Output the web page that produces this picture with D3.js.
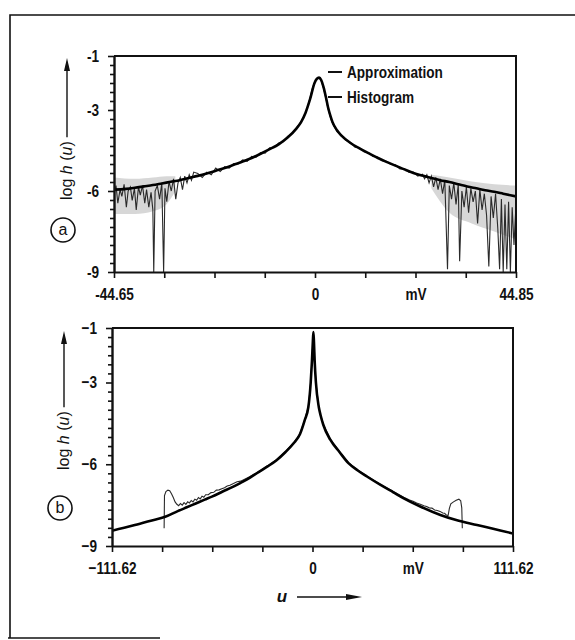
<!DOCTYPE html>
<html>
<head>
<meta charset="utf-8">
<script src="https://cdn.jsdelivr.net/npm/d3@7"></script>
<style>
body { margin: 0; background: #fff; }
svg text { font-family: "Liberation Sans", Arial, sans-serif; fill: #111; }
.num { font-weight: bold; font-size: 17px; }
.leg { font-weight: bold; font-size: 16px; }
</style>
</head>
<body>
<div id="container"></div>
<script>
// ---- data ----
// panel a: approximation curve [u (mV), log h(u)]
let approxA = [
  [-44.65, -5.95], [-42, -5.92], [-40, -5.88], [-38, -5.83], [-36, -5.78], [-34, -5.72],
  [-32, -5.66], [-30, -5.6], [-28, -5.52], [-26, -5.44], [-24, -5.35], [-22, -5.25],
  [-20, -5.15], [-18, -5.03], [-16, -4.91], [-14, -4.78], [-12, -4.62], [-10, -4.45],
  [-8, -4.27], [-6, -4.02], [-4, -3.68], [-3, -3.45], [-2, -3.1], [-1, -2.6], [0, -2.0],
  [0.5, -1.85], [1, -1.8], [1.5, -1.9], [2, -2.15], [2.5, -2.5], [3, -2.9], [3.5, -3.2],
  [4, -3.45], [5, -3.75], [6, -3.95], [8, -4.22], [10, -4.42], [12, -4.6], [14, -4.77],
  [16, -4.92], [18, -5.06], [20, -5.2], [22, -5.33], [24, -5.43], [26, -5.52], [28, -5.6],
  [30, -5.67], [32, -5.75], [34, -5.83], [36, -5.9], [38, -5.97], [40, -6.03], [42, -6.1],
  [44.85, -6.2]
];

// panel a: histogram [u, log h(u)]
let histA = [
  [-44.6, -6.1], [-44.2, -5.8], [-43.8, -6.45], [-43.3, -5.95], [-42.9, -6.2], [-42.4, -5.75],
  [-41.9, -6.6], [-41.5, -6.0], [-41.0, -5.85], [-40.6, -6.35], [-40.1, -5.9], [-39.7, -6.7],
  [-39.2, -5.85], [-38.8, -6.15], [-38.3, -5.8], [-37.8, -6.45], [-37.4, -5.95], [-36.9, -6.6],
  [-36.4, -6.05], [-36.0, -6.7], [-35.8, -9.0], [-35.5, -6.0], [-35.0, -5.8], [-34.5, -6.3],
  [-34.0, -5.7], [-33.6, -9.0], [-33.3, -5.9], [-32.9, -6.4], [-32.4, -5.65], [-31.9, -6.0],
  [-31.4, -5.55], [-30.9, -6.3], [-30.4, -5.7], [-29.9, -5.5], [-29.4, -5.95], [-28.9, -5.45],
  [-28.4, -5.7], [-27.9, -5.4], [-27.4, -5.6], [-26.9, -5.3], [-26, -5.35], [-25, -5.5],
  [-24, -5.3], [-23, -5.4], [-22, -5.15], [-21, -5.28], [-20, -5.1], [-19, -5.15], [-18, -4.98],
  [-17, -5.0], [-16, -4.85], [-15, -4.9], [-14, -4.72], [-13, -4.75], [-12, -4.58], [-11, -4.6],
  [-10, -4.4], [-9, -4.4], [-8, -4.22], [-7, -4.18], [-6, -3.98], [-5, -3.87], [-4, -3.66],
  [-3, -3.43], [-2, -3.1], [-1.5, -2.85], [-1, -2.55], [-0.5, -2.2], [0, -1.98], [0.5, -1.83],
  [1, -1.8], [1.5, -1.92], [2, -2.2], [2.5, -2.55], [3, -2.95], [3.5, -3.25], [4, -3.5],
  [5, -3.8], [6, -3.92], [7, -4.12], [8, -4.2], [9, -4.38], [10, -4.4], [11, -4.55],
  [12, -4.58], [13, -4.72], [14, -4.74], [15, -4.88], [16, -4.9], [17, -5.02], [18, -5.03],
  [19, -5.18], [20, -5.17], [21, -5.3], [22, -5.3], [23, -5.45], [24, -5.38],
  [24.5, -5.55], [25, -5.4], [25.5, -5.7], [26, -5.45], [26.5, -5.85], [27, -5.5],
  [27.5, -5.95], [28, -5.55], [28.5, -6.1], [29, -5.6], [29.6, -8.9], [30, -5.8],
  [30.5, -6.3], [31, -5.7], [31.5, -6.5], [32, -5.75], [32.3, -8.6], [32.8, -6.0],
  [33.3, -6.6], [33.8, -5.85], [34.3, -6.8], [34.8, -5.9], [35.3, -6.4], [35.8, -6.0],
  [36.3, -7.2], [36.8, -5.95], [37.3, -6.7], [37.8, -6.1], [38.3, -6.9], [38.8, -8.8],
  [39.3, -6.2], [39.8, -7.0], [40.3, -6.1], [40.8, -7.4], [41.2, -8.9], [41.6, -6.3],
  [42.0, -9.0], [42.4, -6.5], [42.8, -8.9], [43.2, -6.4], [43.6, -9.0], [44.0, -6.6],
  [44.4, -8.0], [44.85, -6.5]
];

// panel a: grey noise envelope of the histogram tails [u, upper, lower]
let bandALeft = [
  [-44.65, -5.5, -6.85], [-40, -5.55, -6.85], [-36, -5.5, -6.75], [-33, -5.45, -6.5],
  [-31, -5.45, -6.0]
];
let bandARight = [
  [26, -5.4, -5.9], [30, -5.5, -6.8], [35, -5.65, -7.2],
  [40, -5.75, -7.5], [44.85, -5.8, -7.8]
];

// panel b: approximation curve
let approxB = [
  [-111.62, -8.44], [-100, -8.25], [-90, -8.07], [-82, -7.93], [-75, -7.72], [-70, -7.58],
  [-65, -7.44], [-60, -7.3], [-56, -7.19], [-50, -7.0], [-45, -6.85], [-40, -6.68],
  [-35, -6.5], [-31, -6.33], [-25, -6.08], [-20, -5.85], [-15, -5.55], [-10.5, -5.23],
  [-7, -4.9], [-4.4, -4.4], [-2.3, -3.9], [-1.0, -3.0], [-0.3, -2.2], [0.2, -1.5],
  [0.5, -1.15], [0.8, -1.5], [1.2, -2.2], [1.9, -3.0], [3.5, -3.9], [4.5, -4.2], [6, -4.55],
  [9.9, -5.1], [15, -5.55], [20, -5.96], [25, -6.22], [30.3, -6.45], [37.9, -6.76],
  [45, -7.03], [50.8, -7.25], [60, -7.55], [71.2, -7.86], [80, -8.05], [91.6, -8.23],
  [100, -8.36], [111.62, -8.54]
];

// panel b: histogram
let histB = [
  [-82.6, -8.35], [-82.4, -7.15], [-81.6, -7.0], [-80.5, -6.95], [-79.5, -6.97], [-78.5, -7.08],
  [-77.5, -7.22], [-76.5, -7.38], [-75.5, -7.47], [-74.5, -7.52], [-73.5, -7.44], [-72.5, -7.5],
  [-71.5, -7.41], [-70.5, -7.47], [-69.5, -7.38], [-68.5, -7.42], [-67.5, -7.33], [-66.5, -7.38],
  [-65.5, -7.28], [-64.5, -7.32], [-63.5, -7.22], [-62.5, -7.27], [-61.5, -7.17], [-60.5, -7.21],
  [-59.5, -7.12], [-58, -7.12], [-56.5, -7.04], [-55, -7.03], [-53.5, -6.95], [-52, -6.94],
  [-50.5, -6.9], [-49, -6.86], [-47.5, -6.8], [-46, -6.77], [-44, -6.71], [-42, -6.64],
  [-40, -6.62], [-35, -6.46], [-30, -6.27], [-25, -6.05], [-20, -5.83], [-15, -5.53],
  [-10.5, -5.21], [-7, -4.88], [-4.4, -4.38], [-2.3, -3.88], [-1, -2.98], [-0.3, -2.18],
  [0.2, -1.5], [0.5, -1.2], [0.8, -1.5], [1.2, -2.2], [1.9, -3.0], [3.5, -3.9], [4.5, -4.19],
  [6, -4.53], [9.9, -5.08], [15, -5.53], [20, -5.94], [25, -6.2], [30.3, -6.43], [37.9, -6.74],
  [45, -7.0], [50.8, -7.21], [54, -7.31], [56, -7.36], [58, -7.42], [60, -7.47], [62, -7.52],
  [63.5, -7.55], [65, -7.6], [66.5, -7.61], [68, -7.68], [69.5, -7.7], [71, -7.73],
  [72.5, -7.79], [73.5, -7.8], [74.5, -7.86], [75.5, -7.88], [76.2, -7.62], [77, -7.45],
  [78.5, -7.38], [80, -7.32], [81.5, -7.28], [82.5, -7.34], [83.1, -7.6], [83.4, -8.35]
];

// axes
let xDomainA = [-44.65, 44.85];
let xDomainB = [-111.62, 111.62];
let xLabelsA = ["-44.65", "", "", "", "0", "", "mV", "", "44.85"];
let xLabelsB = ["\u2212111.62", "", "", "", "0", "", "mV", "", "111.62"];
let yLabelValues = [-1, -3, -6, -9];
let legendItems = ["Approximation", "Histogram"];

let w = 575;
let h = 640;
let NARROW = 0.8;   // the scan uses a condensed face

let svg = d3.select('#container')
  .append('svg')
  .attr('width', w)
  .attr('height', h);

// outer frame of the scanned figure
svg.append('path')
  .attr('d', 'M10,638 L10,15 L575,15')
  .attr('fill', 'none').attr('stroke', '#111').attr('stroke-width', 1.6);
svg.append('path')
  .attr('d', 'M8,638 L160,638')
  .attr('fill', 'none').attr('stroke', '#111').attr('stroke-width', 1.6);

function arrowUp(g, x, yTop, yBottom) {
  g.append('line').attr('x1', x).attr('x2', x).attr('y1', yBottom).attr('y2', yTop + 8)
    .attr('stroke', '#111').attr('stroke-width', 1.4);
  g.append('path').attr('d', `M${x},${yTop} L${x - 3},${yTop + 13} L${x + 3},${yTop + 13} Z`).attr('fill', '#111');
}

function drawPanel(p) {
  let x = d3.scaleLinear().domain(p.xDomain).range([p.left, p.right]);
  let y = d3.scaleLinear().domain([-9, -1]).range([p.bottom, p.top]);
  let g = svg.append('g');

  let clipId = 'clip' + p.name;
  svg.append('clipPath').attr('id', clipId).append('rect')
    .attr('x', p.left).attr('y', p.top).attr('width', p.right - p.left).attr('height', p.bottom - p.top);
  let plot = g.append('g').attr('clip-path', `url(#${clipId})`);

  // grey noise of the histogram tails
  p.bands.forEach(b => {
    plot.append('path').datum(b)
      .attr('d', d3.area().x(d => x(d[0])).y0(d => y(d[2])).y1(d => y(d[1])).curve(d3.curveMonotoneX))
      .attr('fill', '#9a9a9a').attr('opacity', 0.4);
  });

  // histogram
  plot.append('path').datum(p.hist)
    .attr('d', d3.line().x(d => x(d[0])).y(d => y(d[1])))
    .attr('fill', 'none').attr('stroke', '#2a2a2a').attr('stroke-width', 1.1);

  // approximation
  plot.append('path').datum(p.approx)
    .attr('d', d3.line().x(d => x(d[0])).y(d => y(d[1])).curve(d3.curveMonotoneX))
    .attr('fill', 'none').attr('stroke', '#000').attr('stroke-width', 2.6)
    .attr('stroke-linejoin', 'round');

  // top + right of the box
  g.append('path').attr('d', `M${p.left},${p.top} H${p.right} V${p.bottom}`)
    .attr('fill', 'none').attr('stroke', '#111').attr('stroke-width', 2);

  // x axis
  let xTicks = d3.range(9).map(i => p.xDomain[0] + i * (p.xDomain[1] - p.xDomain[0]) / 8);
  let xAxisGroup = g.append('g').attr('transform', `translate(0,${p.bottom})`)
    .call(d3.axisBottom(x).tickValues(xTicks).tickSize(6).tickSizeOuter(0).tickPadding(10)
      .tickFormat((d, i) => p.xLabels[i]));
  xAxisGroup.select('.domain').attr('stroke', '#111').attr('stroke-width', 2.2);
  xAxisGroup.selectAll('line').attr('stroke', '#111').attr('stroke-width', 1.6);
  xAxisGroup.selectAll('text').attr('class', 'num').attr('font-family', null).attr('font-size', null)
    .attr('transform', `scale(${NARROW},1)`);

  // y axis, minor ticks every third of a decade
  let yTicks = d3.range(25).map(i => -9 + i / 3);
  let isLabel = d => Math.abs(d - Math.round(d)) < 1e-6 && yLabelValues.includes(Math.round(d));
  let yAxisGroup = g.append('g').attr('transform', `translate(${p.left},0)`)
    .call(d3.axisLeft(y).tickValues(yTicks).tickSize(4).tickSizeOuter(0)
      .tickFormat(d => isLabel(d) ? p.minus + Math.abs(Math.round(d)) : ''));
  yAxisGroup.select('.domain').attr('stroke', '#111').attr('stroke-width', 2.4);
  yAxisGroup.selectAll('line').attr('stroke', '#111').attr('stroke-width', 1.6);
  yAxisGroup.selectAll('.tick').filter(d => isLabel(d)).select('line').attr('x2', -6);
  yAxisGroup.selectAll('text').attr('class', 'num').attr('font-family', null).attr('font-size', null)
    .attr('x', -15 / NARROW).attr('transform', `scale(${NARROW},1)`);

  // y title "log h(u)" with arrow
  let t = g.append('text')
    .attr('transform', `translate(${p.titleX},${p.titleY}) rotate(-90)`)
    .attr('font-size', 16);
  t.append('tspan').text('log ');
  t.append('tspan').attr('font-style', 'italic').text('h');
  t.append('tspan').text(' (');
  t.append('tspan').attr('font-style', 'italic').text('u');
  t.append('tspan').text(')');
  let len = t.node().getComputedTextLength();
  arrowUp(g, p.titleX - 5, p.arrowTop, p.titleY - len - 4);

  // circled panel letter
  g.append('circle').attr('cx', p.tagX).attr('cy', p.tagY).attr('r', 12)
    .attr('fill', 'none').attr('stroke', '#111').attr('stroke-width', 1.6);
  g.append('text').attr('x', p.tagX).attr('y', p.tagY + 5).attr('text-anchor', 'middle')
    .attr('font-size', 16).text(p.name);

  return { g, x, y };
}

let panelA = drawPanel({
  name: 'a', xDomain: xDomainA, left: 114, right: 516, top: 56, bottom: 272,
  approx: approxA, hist: histA, bands: [bandALeft, bandARight],
  xLabels: xLabelsA, minus: '-',
  titleX: 72, titleY: 200, arrowTop: 58, tagX: 63, tagY: 230
});

let panelB = drawPanel({
  name: 'b', xDomain: xDomainB, left: 112, right: 513, top: 328, bottom: 546,
  approx: approxB, hist: histB, bands: [],
  xLabels: xLabelsB, minus: '\u2212',
  titleX: 69, titleY: 470, arrowTop: 331, tagX: 60, tagY: 508
});

// legend of panel a
legendItems.forEach((name, i) => {
  let ly = 72 + i * 25;
  panelA.g.append('line').attr('x1', 328).attr('x2', 342).attr('y1', ly).attr('y2', ly)
    .attr('stroke', '#111').attr('stroke-width', 2);
  panelA.g.append('g').attr('transform', `translate(347,${ly + 6}) scale(0.85,1)`)
    .append('text').attr('class', 'leg').text(name);
});

// "u ->" under panel b
let uy = 597;
svg.append('text').attr('x', 282).attr('y', uy + 5).attr('text-anchor', 'middle')
  .attr('font-size', 17).attr('font-style', 'italic').attr('font-weight', 'bold').text('u');
svg.append('line').attr('x1', 297).attr('x2', 350).attr('y1', uy).attr('y2', uy)
  .attr('stroke', '#111').attr('stroke-width', 1.4);
svg.append('path').attr('d', `M362,${uy} L346,${uy - 3} L346,${uy + 3} Z`).attr('fill', '#111');
</script>
</body>
</html>
